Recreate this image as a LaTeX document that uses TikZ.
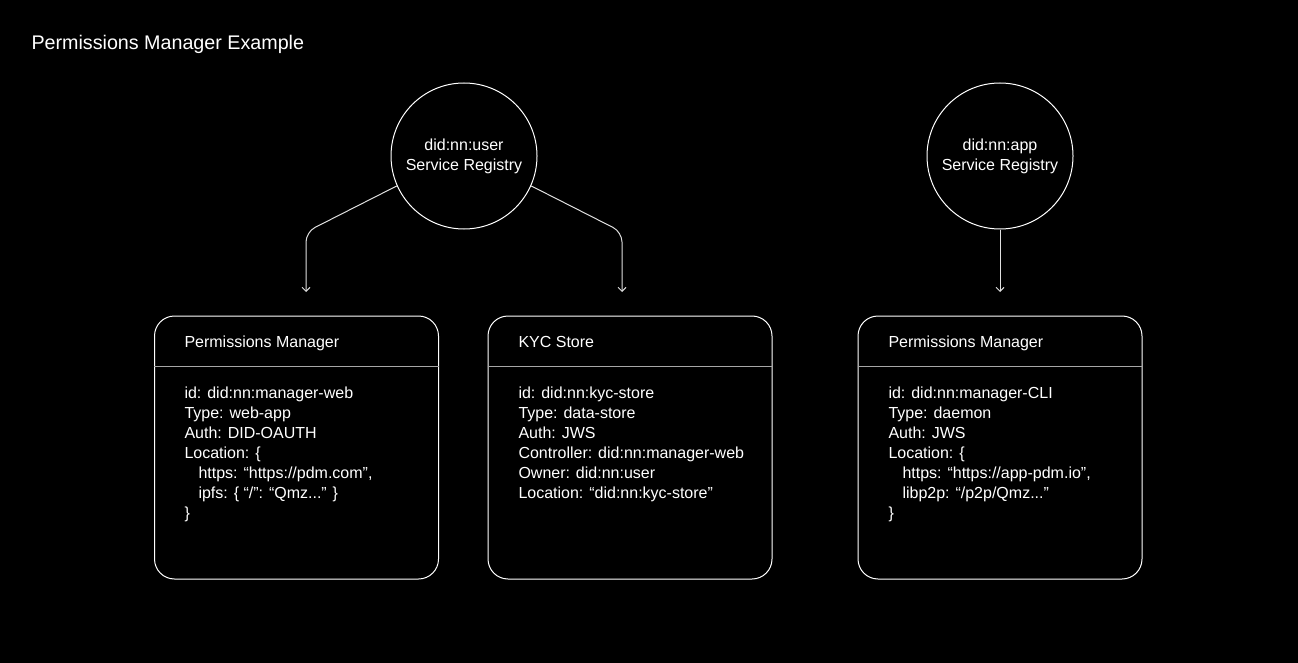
\documentclass[tikz,border=0pt]{standalone}
\usepackage{fontspec}
\setmainfont{Liberation Sans}
\usetikzlibrary{arrows.meta}
\begin{document}
\begin{tikzpicture}[x=1pt,y=-1pt,
  line width=1pt,
  every node/.style={text=white},
  reg/.style={circle,draw=white,minimum size=146pt,inner sep=0pt,align=center,font=\fontsize{16}{20}\selectfont},
  card/.style={draw=white,rounded corners=20pt,minimum width=284pt,minimum height=263pt,inner sep=0pt},
  divider/.style={draw=white!65!black},
  ttl/.style={anchor=base west,inner sep=0pt,font=\fontsize{16}{20}\selectfont},
  body/.style={anchor=base west,inner sep=0pt,align=left,font=\fontsize{16}{20}\selectfont},
  conn/.style={draw=white!88!black,rounded corners=10pt,-{Straight Barb[length=4pt,width=8pt]}}
]
\fill[black] (0,0) rectangle (1298,663);
\useasboundingbox (0,0) rectangle (1298,663);

\node[anchor=base west,inner sep=0pt,font=\fontsize{19.7}{24}\selectfont] (title) at (31,49.5) {Permissions Manager Example};

\node[reg] (c1) at (464,156) {did:nn:user\\Service Registry};
\node[reg] (c2) at (1000,156) {did:nn:app\\Service Registry};

\node[card] (b1) at (296.5,447.5) {};
\node[card] (b2) at (630,447.5) {};
\node[card] (b3) at (1000,447.5) {};

\draw[divider] (b1.west |- 0,366) -- (b1.east |- 0,366);
\draw[divider] (b2.west |- 0,366) -- (b2.east |- 0,366);
\draw[divider] (b3.west |- 0,366) -- (b3.east |- 0,366);

\node[ttl] (t1) at (184,347) {Permissions Manager};
\node[ttl] (t2) at (518,347) {KYC Store};
\node[ttl] (t3) at (888,347) {Permissions Manager};

% base anchor of a multi-line node is the baseline of its last line
\node[body] (d1) at (184,518) {id: did:nn:manager-web\\Type: web-app\\Auth: DID-OAUTH\\Location: \{\\\hspace*{14pt}https: “https://pdm.com”,\\\hspace*{14pt}ipfs: \{ “/”: “Qmz...” \}\\\}};
\node[body] (d2) at (518,498) {id: did:nn:kyc-store\\Type: data-store\\Auth: JWS\\Controller: did:nn:manager-web\\Owner: did:nn:user\\Location: “did:nn:kyc-store”};
\node[body] (d3) at (888,518) {id: did:nn:manager-CLI\\Type: daemon\\Auth: JWS\\Location: \{\\\hspace*{14pt}https: “https://app-pdm.io”,\\\hspace*{14pt}libp2p: “/p2p/Qmz...”\\\}};

\coordinate (k1) at (306,232);
\coordinate (e1) at (306,292);
\coordinate (k2) at (622,232);
\coordinate (e2) at (622,292);
\coordinate (e3) at (1000,292);

\draw[conn] (c1.204) -- (k1) -- (e1);
\draw[conn] (c1.336) -- (k2) -- (e2);
\draw[conn] (c2.south) -- (e3);
\end{tikzpicture}
\end{document}
